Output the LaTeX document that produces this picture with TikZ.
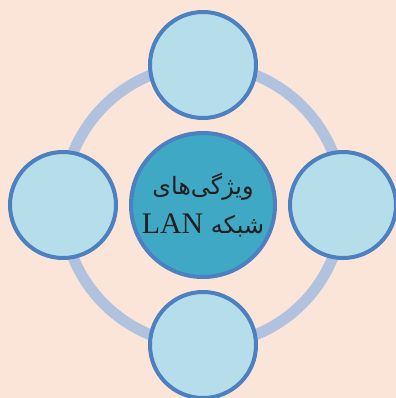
\documentclass[tikz,border=0pt]{standalone}
\usepackage{fontspec}
\setmainfont{Liberation Serif}
\newfontfamily\arabicfont[Script=Arabic]{DejaVu Sans}
\TeXXeTstate=1
\usepackage{tikz}
\usetikzlibrary{positioning}
\definecolor{peachbg}{RGB}{250,229,216}
\definecolor{ringblue}{RGB}{176,194,221}
\definecolor{leafblue}{RGB}{182,222,234}
\definecolor{edgeblue}{RGB}{76,128,192}
\definecolor{hubteal}{RGB}{63,169,197}
\definecolor{inkdark}{RGB}{35,31,32}

\begin{document}
\begin{tikzpicture}[
  x=1bp, y=1bp,
  leaf/.style={circle, draw=edgeblue, fill=leafblue, line width=4bp,
               minimum size=106bp, inner sep=0pt},
  hub/.style={circle, draw=edgeblue, fill=hubteal, line width=4bp,
              minimum size=144bp, inner sep=0pt, align=center,
              text=inkdark, font=\arabicfont\fontsize{24}{40}\selectfont},
  ring/.style={draw=ringblue, line width=11bp}
]

%% ---------- BACKGROUND ----------
\fill[peachbg] (0,0) rectangle (396,398);
\useasboundingbox (0,0) rectangle (396,398);

%% ---------- RING ----------
\coordinate (mid) at (203,193);
\draw[ring] (mid) circle (140);

%% ---------- OUTER CIRCLES ----------
\node[leaf] (north) at (203,333) {};
\node[leaf] (south) at (203,53)  {};
\node[leaf] (west)  at (63,193)  {};
\node[leaf] (east)  at (343,193) {};

%% ---------- CENTRE ----------
\node[hub] (core) at (mid)
  {\beginR ویژگی‌های\endR\\
   \beginR شبکه \beginL{\rmfamily\fontsize{30}{40}\selectfont LAN}\endL\endR};

\end{tikzpicture}
\end{document}
